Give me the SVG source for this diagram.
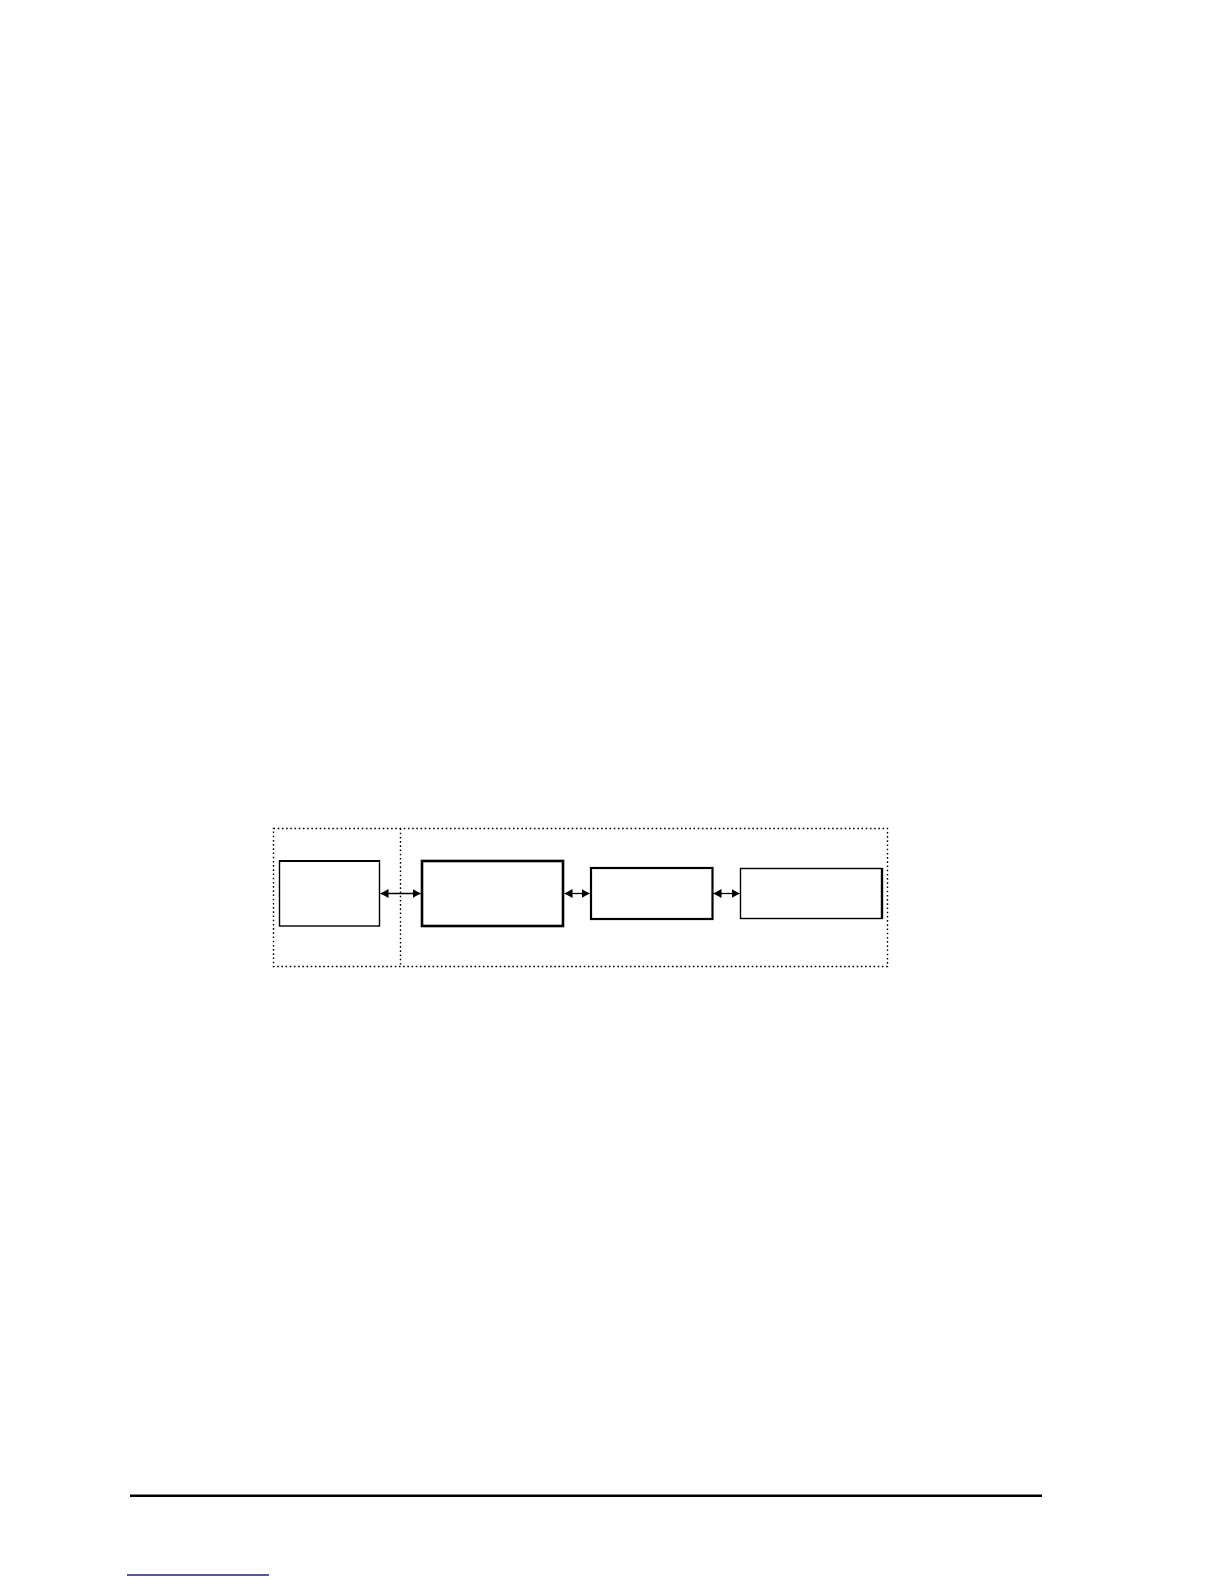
<svg xmlns="http://www.w3.org/2000/svg" width="1224" height="1584" viewBox="0 0 1224 1584">
<style>
.frame{fill:none;stroke:#000;stroke-width:1.4;stroke-dasharray:1.6 2.6}
.box{fill:#fff;stroke:#000}
.conn{stroke:#000;stroke-width:1.3;fill:none}
</style>
<defs>
<marker id="ah" viewBox="0 0 8 9" refX="8" refY="4.5" markerWidth="8" markerHeight="9" markerUnits="userSpaceOnUse" orient="auto-start-reverse">
<path d="M0,0 L8,4.5 L0,9 Z" fill="#000"/>
</marker>
</defs>
<rect width="1224" height="1584" fill="#fff"/>
<g id="frame">
<rect class="frame" x="273.5" y="828.5" width="614" height="138"/>
<line class="frame" x1="400.5" y1="828.5" x2="400.5" y2="966.5"/>
</g>
<g id="node1"><rect class="box" x="279.5" y="861" width="100" height="65" stroke-width="1.4"/><line x1="279" y1="861" x2="380" y2="861" stroke="#000" stroke-width="2"/></g>
<g id="node2"><rect class="box" x="422" y="861" width="141" height="65" stroke-width="2.6"/></g>
<g id="node3"><rect class="box" x="591" y="868" width="121.5" height="51" stroke-width="2.2"/></g>
<g id="node4"><rect class="box" x="740.5" y="868.5" width="141.5" height="50" stroke-width="1.4"/><line x1="882" y1="868" x2="882" y2="919" stroke="#000" stroke-width="2.4"/></g>
<g id="connectors">
<line class="conn" x1="380.5" y1="893.5" x2="420.5" y2="893.5" marker-start="url(#ah)" marker-end="url(#ah)"/>
<line class="conn" x1="564.5" y1="893.5" x2="589.5" y2="893.5" marker-start="url(#ah)" marker-end="url(#ah)"/>
<line class="conn" x1="713.5" y1="893.5" x2="739.5" y2="893.5" marker-start="url(#ah)" marker-end="url(#ah)"/>
</g>
<g id="footer">
<line x1="130" y1="1495.8" x2="1042" y2="1495.8" stroke="#000" stroke-width="2.5"/>
<line x1="127" y1="1575" x2="269" y2="1575" stroke="#1a1a96" stroke-width="1.6"/>
</g>
</svg>
